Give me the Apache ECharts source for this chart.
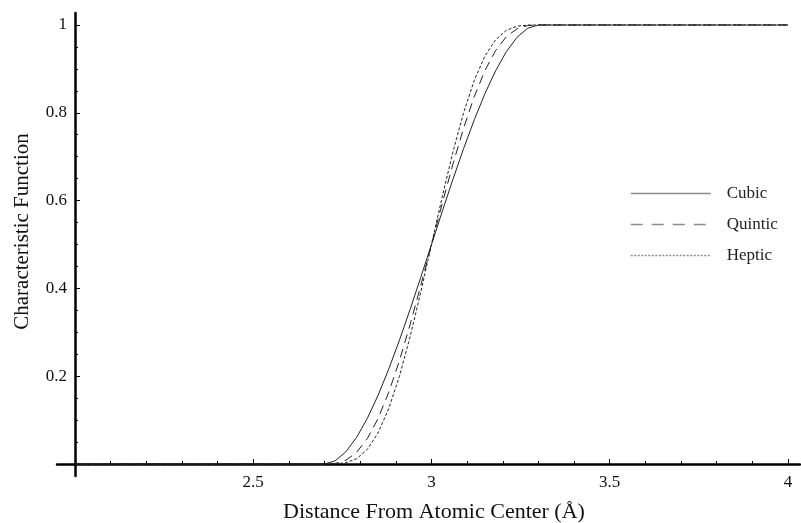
<!DOCTYPE html>
<html>
<head>
<meta charset="utf-8">
<script src="https://cdn.jsdelivr.net/npm/echarts@6/dist/echarts.min.js"></script>
<style>html,body{margin:0;padding:0;background:#fff;}#c{width:801px;height:523px;}</style>
</head>
<body>
<div id="c"></div>
<script>
// Data
const distance = [2.0, 2.70, 2.73, 2.76, 2.79, 2.82, 2.85, 2.88, 2.91, 2.94, 2.97, 3.00, 3.03, 3.06, 3.09, 3.12, 3.15, 3.18, 3.21, 3.24, 3.27, 3.30, 4.0];
const cubic   = [0, 0, 0.0073, 0.028, 0.0608, 0.104, 0.1563, 0.216, 0.2818, 0.352, 0.4253, 0.5, 0.5748, 0.648, 0.7183, 0.784, 0.8438, 0.896, 0.9393, 0.972, 0.9928, 1, 1];
const quintic = [0, 0, 0.0012, 0.0086, 0.0266, 0.0579, 0.1035, 0.1631, 0.2352, 0.3174, 0.4069, 0.5, 0.5931, 0.6826, 0.7648, 0.8369, 0.8965, 0.9421, 0.9734, 0.9914, 0.9988, 1, 1];
const heptic  = [0, 0, 0.0002, 0.0027, 0.0121, 0.0333, 0.0706, 0.126, 0.1998, 0.2898, 0.3917, 0.5, 0.6083, 0.7102, 0.8002, 0.874, 0.9294, 0.9667, 0.9879, 0.9973, 0.9998, 1, 1];
const seriesNames = ['Cubic', 'Quintic', 'Heptic'];
const xMajorTicks = [2.5, 3, 3.5, 4];
const xMinorTicks = [2.1, 2.2, 2.3, 2.4, 2.6, 2.7, 2.8, 2.9, 3.1, 3.2, 3.3, 3.4, 3.6, 3.7, 3.8, 3.9];
const yMajorTicks = [0.2, 0.4, 0.6, 0.8, 1];
const yMinorTicks = [0.05, 0.1, 0.15, 0.25, 0.3, 0.35, 0.45, 0.5, 0.55, 0.65, 0.7, 0.75, 0.85, 0.9, 0.95];

const FONT = "'Liberation Serif', 'Times New Roman', serif";
const pairs = ys => distance.map((x, i) => [x, ys[i]]);

const xMin = 1.94951, xMax = 4.03371;
const yMin = -0.02733, yMax = 1.02733;

const chart = echarts.init(document.getElementById('c'), null, {renderer: 'canvas'});
chart.setOption({
  animation: false,
  backgroundColor: '#fff',
  grid: {left: 57, right: 1, top: 13, bottom: 47, containLabel: false, outerBoundsMode: 'none'},
  xAxis: [
    {
      type: 'value', min: xMin, max: xMax, position: 'bottom',
      axisLine: {show: true, onZero: true, lineStyle: {color: '#000', width: 2.5}},
      axisTick: {show: true, inside: true, length: 5, customValues: xMajorTicks, lineStyle: {color: '#000', width: 1}},
      axisLabel: {show: true, customValues: xMajorTicks, margin: -2, color: '#111', fontSize: 17, fontFamily: FONT,
                  formatter: v => String(+v.toFixed(2))},
      splitLine: {show: false},
      name: 'Distance From Atomic Center (Å)', nameLocation: 'middle', nameGap: 25,
      nameTextStyle: {color: '#111', fontSize: 22, fontFamily: FONT, padding: [0, 0, 0, 11]}
    },
    {
      type: 'value', min: xMin, max: xMax, position: 'bottom',
      axisLine: {show: false, onZero: true},
      axisTick: {show: true, inside: true, length: 3, customValues: xMinorTicks, lineStyle: {color: '#000', width: 1}},
      axisLabel: {show: false},
      splitLine: {show: false}
    }
  ],
  yAxis: [
    {
      type: 'value', min: yMin, max: yMax, offset: -18, position: 'left',
      axisLine: {show: true, onZero: false, lineStyle: {color: '#000', width: 2.5}},
      axisTick: {show: true, inside: true, length: 5, customValues: yMajorTicks, lineStyle: {color: '#000', width: 1}},
      axisLabel: {show: true, customValues: yMajorTicks, margin: 8, color: '#111', fontSize: 17, fontFamily: FONT,
                  formatter: v => String(+v.toFixed(2))},
      splitLine: {show: false},
      name: 'Characteristic Function', nameLocation: 'middle', nameGap: 42,
      nameTextStyle: {color: '#111', fontSize: 21, fontFamily: FONT, padding: [0, 0, 0, 26]}
    },
    {
      type: 'value', min: yMin, max: yMax, offset: -18, position: 'left',
      axisLine: {show: false, onZero: false},
      axisTick: {show: true, inside: true, length: 3, customValues: yMinorTicks, lineStyle: {color: '#000', width: 1}},
      axisLabel: {show: false},
      splitLine: {show: false}
    }
  ],
  legend: {
    orient: 'vertical', left: 625, top: 180,
    itemWidth: 80, itemHeight: 10, itemGap: 14,
    data: [
      {name: seriesNames[0]},
      {name: seriesNames[1], lineStyle: {type: [12, 9]}},
      {name: seriesNames[2], lineStyle: {type: [2, 1.5]}}
    ],
    textStyle: {color: '#222', fontSize: 17, fontFamily: FONT, padding: [0, 0, 0, 11]},
    itemStyle: {opacity: 0},
    lineStyle: {color: '#8c8c8c', width: 1.5, opacity: 1}
  },
  series: [
    {name: seriesNames[0], type: 'line', data: pairs(cubic), symbol: 'none', smooth: false,
     lineStyle: {color: '#222', width: 1, type: 'solid'}, itemStyle: {color: '#222'}, z: 5},
    {name: seriesNames[1], type: 'line', data: pairs(quintic), symbol: 'none', smooth: false,
     lineStyle: {color: '#222', width: 1, type: [9, 6]}, itemStyle: {color: '#222'}, z: 5},
    {name: seriesNames[2], type: 'line', data: pairs(heptic), symbol: 'none', smooth: false,
     lineStyle: {color: '#222', width: 1, type: [3, 2]}, itemStyle: {color: '#222'}, z: 5}
  ]
});
</script>
</body>
</html>
